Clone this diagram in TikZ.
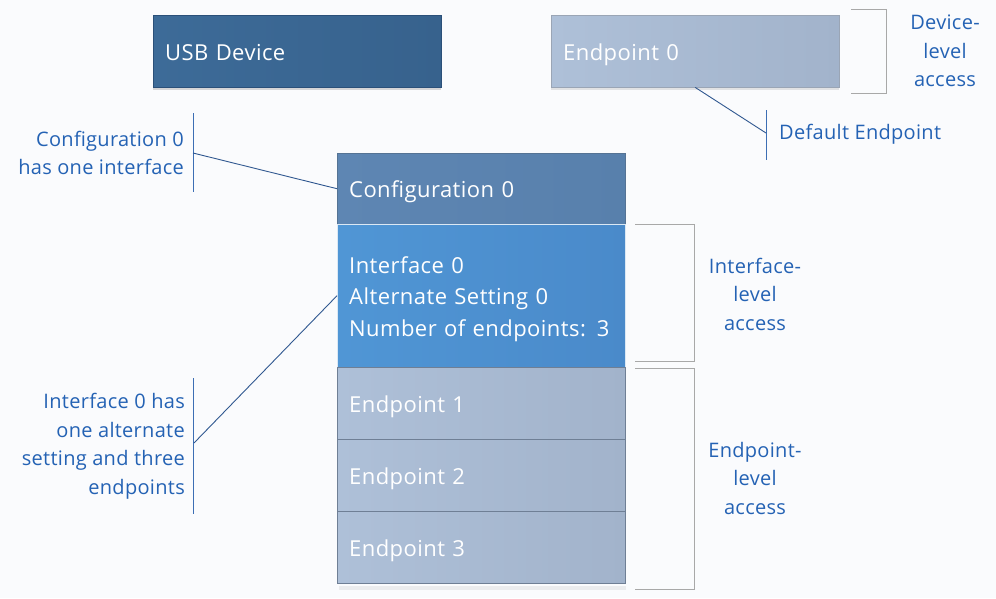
\documentclass[tikz,border=0pt]{standalone}
\usepackage{fontspec}
\setmainfont{Open Sans}
\newfontfamily\boxfont[LetterSpace=2]{Open Sans}
\newfontfamily\lblfont[LetterSpace=1.5]{Open Sans}
\usetikzlibrary{shadows}
\definecolor{bgc}{HTML}{FAFBFD}
\definecolor{usbL}{HTML}{3D6B98}
\definecolor{usbR}{HTML}{37628D}
\definecolor{usbD}{HTML}{2B5079}
\definecolor{cfgL}{HTML}{5E86B3}
\definecolor{cfgR}{HTML}{5880AC}
\definecolor{ifcL}{HTML}{5096D5}
\definecolor{ifcR}{HTML}{4A8ACA}
\definecolor{epL}{HTML}{AEC0D8}
\definecolor{epR}{HTML}{A2B3CB}
\definecolor{epD}{HTML}{6F7F95}
\definecolor{lblc}{HTML}{2462B4}
\definecolor{linec}{HTML}{3C6EB4}
\definecolor{brc}{HTML}{A8A8A8}
\begin{document}
\begin{tikzpicture}[x=1pt,y=-1pt,
  blk/.style={rectangle, anchor=north west, text=white, inner xsep=12pt,
    font=\boxfont\fontsize{22}{31.5}\selectfont, align=left,
    minimum width=288pt, text width=264pt},
  oneline/.style={text height=18.5pt, text depth=0pt},
  usbbox/.style={blk, oneline, draw=usbD, left color=usbL, right color=usbR,
    minimum height=72pt, drop shadow={opacity=0.3, shadow xshift=0pt, shadow yshift=-3pt}},
  cfgbox/.style={blk, oneline, draw=usbD!80, left color=cfgL, right color=cfgR, minimum height=71pt},
  ifcbox/.style={blk, draw=white!80!ifcR, left color=ifcL, right color=ifcR, minimum height=143pt},
  epbox/.style={blk, oneline, draw=epD, left color=epL, right color=epR, minimum height=72pt},
  lbl/.style={text=lblc, font=\lblfont\fontsize{20}{28.5}\selectfont, inner sep=0pt},
  bar/.style={draw=linec, line width=1pt},
  conn/.style={draw=linec!80!black, line width=0.9pt},
  brk/.style={draw=brc, line width=1pt}]
\fill[bgc] (0,0) rectangle (996,598);
\useasboundingbox (0,0) rectangle (996,598);

% top boxes
\node[usbbox] (usb) at (153,15) {USB Device};
\node[epbox, draw=epD!70, drop shadow={opacity=0.2, shadow xshift=0pt, shadow yshift=-3pt}] (ep0) at (551,15) {Endpoint 0};

% stack
\fill[black, opacity=0.06] (339,586) rectangle (626,590);
\node[cfgbox] (cfg) at (337,153) {Configuration 0};
\node[ifcbox] (ifc) at (337,224) {\rule{0pt}{23pt}Interface 0\\Alternate Setting 0\\Number of endpoints: 3};
\node[epbox] (ep1) at (337,367) {Endpoint 1};
\node[epbox] (ep2) at (337,439) {Endpoint 2};
\node[epbox] (ep3) at (337,511) {Endpoint 3};

% brackets
\draw[brk] (851,9) -- (886,9) -- (886,93) -- (851,93);
\draw[brk] (635,224) -- (694,224) -- (694,361) -- (635,361);
\draw[brk] (635,368) -- (694,368) -- (694,589) -- (635,589);

\node[lbl, align=center] (devacc) at (945,51) {Device-\\level\\access};
\node[lbl, align=center] (ifacc) at (755,294) {Interface-\\level\\access};
\node[lbl, align=center] (epacc) at (755,478) {Endpoint-\\level\\access};

% default endpoint label
\coordinate (deftop) at (766,110);
\coordinate (defbot) at (766,160);
\coordinate (defmid) at (766,133);
\draw[bar] (deftop) -- (defbot);
\node[lbl, anchor=west] (deflbl) at (779,134) {Default Endpoint};
\draw[conn] (ep0.south) -- (defmid);

% configuration label
\coordinate (cbtop) at (193,113);
\coordinate (cbbot) at (193,192);
\coordinate (cbmid) at (193,153);
\draw[bar] (cbtop) -- (cbbot);
\node[lbl, align=right, anchor=east] (cfglbl) at (184,153) {Configuration 0\\has one interface};
\draw[conn] (cbmid) -- (cfg.west);

% interface label
\coordinate (ibtop) at (193,378);
\coordinate (ibbot) at (193,514);
\coordinate (ibmid) at (194,443);
\draw[bar] (ibtop) -- (ibbot);
\node[lbl, align=right, anchor=east] (ifclbl) at (185,446) {Interface 0 has\\one alternate\\setting and three\\endpoints};
\draw[conn] (ibmid) -- (ifc.west);
\end{tikzpicture}
\end{document}
